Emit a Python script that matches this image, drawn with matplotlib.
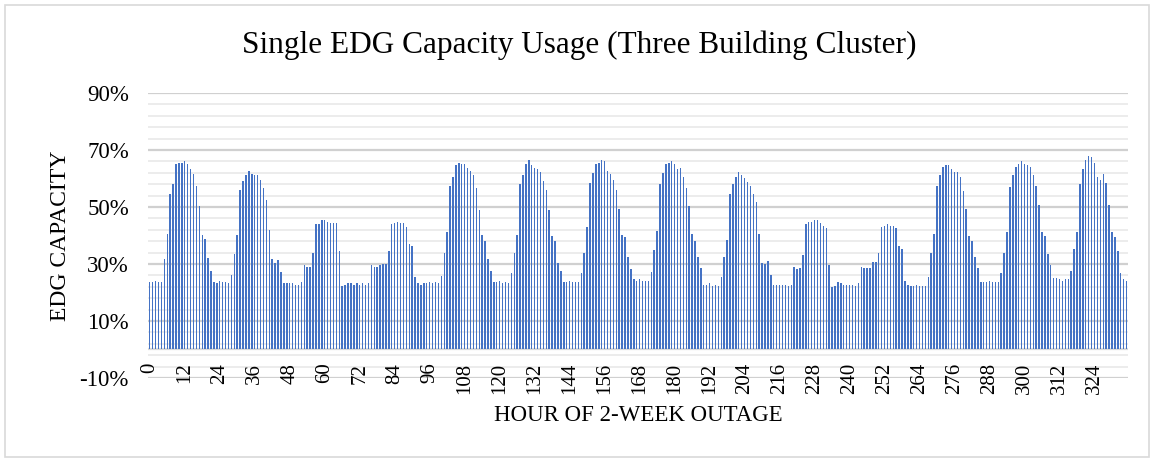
import numpy as np
import matplotlib
matplotlib.use("Agg")
import matplotlib.pyplot as plt
from matplotlib.patches import Rectangle
from matplotlib.ticker import MultipleLocator, FixedLocator, FuncFormatter

plt.rcParams['font.family'] = ['Liberation Serif', 'DejaVu Serif']

# EDG capacity usage per hour (%), hours 0..335
usage = [
    23.6, 23.6, 24.0, 23.6, 23.6, 31.8, 40.7, 54.7, 57.9, 65.1, 65.5, 65.5,
    66.0, 65.1, 63.3, 61.5, 57.4, 50.2, 40.2, 38.6, 32.2, 27.7, 23.6, 23.2,
    24.1, 23.6, 23.6, 23.2, 26.3, 33.6, 40.2, 56.1, 59.3, 61.1, 62.8, 61.5,
    61.1, 61.1, 59.6, 56.5, 52.5, 41.8, 31.8, 30.4, 31.3, 27.3, 23.2, 23.2,
    23.2, 23.2, 22.7, 22.7, 23.6, 29.5, 29.0, 29.0, 33.9, 44.2, 44.2, 45.3,
    45.3, 44.8, 44.3, 44.3, 44.3, 34.4, 22.2, 22.7, 23.2, 23.2, 22.7, 23.2,
    22.7, 23.2, 22.7, 23.2, 29.5, 29.0, 29.0, 29.5, 29.9, 29.9, 34.4, 43.9,
    44.3, 44.8, 44.3, 44.3, 42.9, 37.1, 36.3, 25.5, 23.2, 22.7, 23.2, 23.2,
    23.6, 23.2, 23.6, 23.2, 25.8, 33.9, 41.2, 57.4, 60.6, 64.7, 65.5, 65.1,
    65.1, 63.7, 62.8, 61.1, 56.5, 48.9, 40.2, 38.0, 31.7, 27.7, 23.6, 23.6,
    24.1, 23.2, 23.6, 23.2, 26.8, 33.9, 40.2, 57.9, 61.1, 65.1, 66.4, 64.7,
    63.7, 63.3, 62.3, 59.3, 56.1, 48.9, 39.8, 38.0, 30.4, 27.7, 23.6, 23.6,
    24.1, 23.6, 23.6, 23.6, 26.8, 33.9, 42.9, 58.4, 62.0, 65.1, 65.5, 66.4,
    66.0, 62.8, 61.5, 59.6, 56.1, 49.4, 40.2, 39.4, 32.6, 28.2, 24.6, 24.1,
    24.6, 24.1, 24.1, 24.1, 27.3, 34.9, 41.6, 57.9, 62.0, 65.1, 65.5, 66.0,
    65.1, 63.3, 63.7, 60.6, 56.5, 50.2, 40.7, 38.0, 32.6, 28.5, 22.7, 22.7,
    23.2, 22.2, 22.7, 22.2, 25.5, 32.6, 38.5, 54.7, 57.9, 60.6, 62.3, 61.1,
    60.1, 58.8, 57.4, 54.7, 51.6, 40.7, 30.4, 29.9, 30.9, 26.3, 22.7, 22.7,
    22.7, 22.7, 22.7, 22.2, 22.7, 29.0, 28.1, 28.5, 33.1, 43.9, 44.8, 44.8,
    45.3, 45.3, 44.3, 43.4, 42.5, 29.5, 21.9, 22.2, 23.6, 23.2, 22.7, 22.7,
    22.7, 22.7, 22.2, 23.2, 29.0, 28.5, 28.5, 28.5, 30.8, 30.8, 33.9, 42.9,
    43.4, 43.9, 43.4, 43.4, 42.5, 36.3, 35.3, 24.1, 22.7, 22.2, 22.2, 22.7,
    22.2, 22.2, 22.2, 25.5, 33.9, 40.7, 57.4, 61.1, 64.2, 64.7, 64.7, 63.3,
    62.3, 62.3, 60.6, 55.7, 49.4, 39.8, 38.0, 32.6, 28.5, 23.6, 23.6, 23.6,
    24.1, 23.6, 23.6, 23.6, 26.8, 33.9, 41.2, 57.0, 61.1, 64.2, 65.1, 66.0,
    65.1, 64.7, 64.2, 61.1, 57.4, 50.6, 41.2, 39.8, 33.6, 29.5, 25.0, 25.0,
    24.6, 24.1, 24.6, 24.6, 27.7, 35.3, 41.2, 57.9, 63.3, 66.4, 67.8, 67.4,
    65.5, 60.6, 59.6, 61.5, 58.4, 50.6, 41.2, 39.4, 34.4, 26.8, 24.6, 24.1,
]
hours = np.arange(len(usage))
x_ticks = list(range(0, 336, 12))
y_ticks = [-10, 10, 30, 50, 70, 90]

fig = plt.figure(figsize=(11.54, 4.63), dpi=100)
fig.patches.append(Rectangle((0.004, 0.012), 0.992, 0.978, transform=fig.transFigure,
                             fill=False, edgecolor='#d9d9d9', linewidth=1.2))
ax = fig.add_axes([0.1285, 0.1836, 0.849, 0.6155])

ax.bar(hours, usage, width=0.5, color='#4472C4', zorder=3)

ax.set_xlim(-0.5, 335.5)
ax.set_ylim(-10, 90)
ax.yaxis.set_major_locator(FixedLocator(y_ticks))
ax.yaxis.set_minor_locator(MultipleLocator(4, offset=-10))
ax.yaxis.set_major_formatter(FuncFormatter(lambda v, p: f"{v:.0f}%"))
ax.grid(axis='y', which='major', color='#d0d0d0', linewidth=1.6)
ax.grid(axis='y', which='minor', color='#ececec', linewidth=1.4)
ax.set_axisbelow(True)
ax.axhline(0, color='#d9d9d9', linewidth=1.6, zorder=2)

ax.set_xticks(x_ticks)
ax.set_xticklabels([str(t) for t in x_ticks], rotation=90, va='top')
ax.tick_params(axis='x', length=0, pad=-11, labelsize=15)
ax.tick_params(axis='y', which='both', length=0, pad=14, labelsize=16.5)
ax.xaxis.set_zorder(4)
for s in ax.spines.values():
    s.set_visible(False)

fig.text(0.502, 0.903, 'Single EDG Capacity Usage (Three Building Cluster)',
         fontsize=22.5, ha='center', va='center')
ax.set_xlabel('HOUR OF 2-WEEK OUTAGE', fontsize=16.5, va='center')
ax.xaxis.set_label_coords(0.5, -0.133)
ax.set_ylabel('EDG CAPACITY', fontsize=17, va='center')
ax.yaxis.set_label_coords(-0.09, 0.5)

fig.savefig('out.png', dpi=100)
